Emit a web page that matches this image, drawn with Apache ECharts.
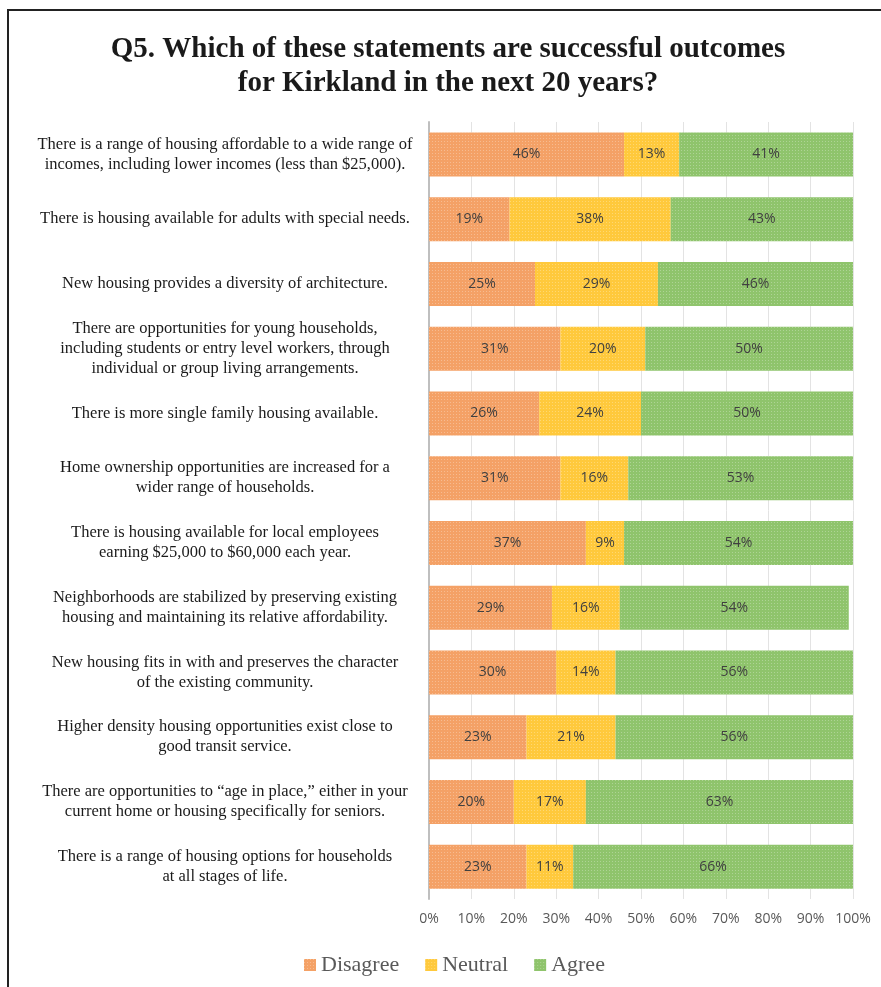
<!DOCTYPE html>
<html>
<head>
<meta charset="utf-8">
<style>
  html, body { margin: 0; padding: 0; background: #fff; }
  #chart { width: 881px; height: 987px; }
</style>
<script src="https://cdn.jsdelivr.net/npm/echarts@6/dist/echarts.min.js"></script>
</head>
<body>
<div id="chart"></div>
<script>
// Statements, top to bottom
const statements = [
  'There is a range of housing affordable to a wide range of\nincomes, including lower incomes (less than $25,000).',
  'There is housing available for adults with special needs.',
  'New housing provides a diversity of architecture.',
  'There are opportunities for young households,\nincluding students or entry level workers, through\nindividual or group living arrangements.',
  'There is more single family housing available.',
  'Home ownership opportunities are increased for a\nwider range of households.',
  'There is housing available for local employees\nearning $25,000 to $60,000 each year.',
  'Neighborhoods are stabilized by preserving existing\nhousing and maintaining its relative affordability.',
  'New housing fits in with and preserves the character\nof the existing community.',
  'Higher density housing opportunities exist close to\ngood transit service.',
  'There are opportunities to \u201cage in place,\u201d either in your\ncurrent home or housing specifically for seniors.',
  'There is a range of housing options for households\nat all stages of life.'
];

// Share of responses (%)
const disagree = [46, 19, 25, 31, 26, 31, 37, 29, 30, 23, 20, 23];
const neutral  = [13, 38, 29, 20, 24, 16,  9, 16, 14, 21, 17, 11];
const agree    = [41, 43, 46, 50, 50, 53, 54, 54, 56, 56, 63, 66];

const seriesNames = ['Disagree', 'Neutral', 'Agree'];
const seriesColors = ['#F4A166', '#FFC93C', '#8FC46C'];

const serifFont = '"Liberation Serif", "DejaVu Serif", serif';
const sansFont = '"Open Sans", "Liberation Sans", sans-serif';

// fine light dot texture on the bars
const texture = {
  symbol: 'rect',
  symbolSize: 1,
  dashArrayX: [1, 2],
  dashArrayY: [1, 2],
  color: 'rgba(255,255,255,0.28)'
};

function makeSeries(name, data, color) {
  return {
    name: name,
    type: 'bar',
    stack: 'total',
    data: data,
    barWidth: 44,
    itemStyle: { color: color, decal: texture },
    label: {
      show: true,
      position: 'inside',
      formatter: '{c}%',
      color: '#404040',
      fontFamily: sansFont,
      fontSize: 14
    },
    emphasis: { disabled: true }
  };
}

const chart = echarts.init(document.getElementById('chart'));
chart.setOption({
  animation: false,
  backgroundColor: '#ffffff',
  title: {
    text: 'Q5. Which of these statements are successful outcomes\nfor Kirkland in the next 20 years?',
    left: 443,
    top: 28,
    textAlign: 'center',
    textStyle: {
      fontFamily: serifFont,
      fontWeight: 'bold',
      fontSize: 29,
      lineHeight: 34,
      color: '#1a1a1a'
    }
  },
  legend: {
    data: seriesNames,
    left: 299,
    top: 949,
    icon: 'rect',
    itemWidth: 12,
    itemHeight: 12,
    itemGap: 26,
    textStyle: {
      fontFamily: serifFont,
      fontSize: 22,
      color: '#595959'
    }
  },
  grid: {
    left: 429,
    right: 28,
    top: 122,
    bottom: 88,
    containLabel: false
  },
  xAxis: {
    type: 'value',
    min: 0,
    max: 100,
    interval: 10,
    axisLine: { show: false },
    axisTick: { show: false },
    axisLabel: {
      formatter: '{value}%',
      color: '#595959',
      fontFamily: sansFont,
      fontSize: 14,
      margin: 13
    },
    splitLine: { show: true, lineStyle: { color: '#E3E3E3', width: 1 } }
  },
  yAxis: {
    type: 'category',
    inverse: true,
    data: statements,
    axisLine: { show: true, lineStyle: { color: '#BFBFBF', width: 2 } },
    axisTick: { show: false },
    axisLabel: {
      align: 'center',
      margin: 204,
      color: '#1a1a1a',
      fontFamily: serifFont,
      fontSize: 16.5,
      lineHeight: 20
    }
  },
  series: [
    makeSeries(seriesNames[0], disagree, seriesColors[0]),
    makeSeries(seriesNames[1], neutral, seriesColors[1]),
    makeSeries(seriesNames[2], agree, seriesColors[2])
  ],
  graphic: [
    {
      type: 'polyline',
      shape: { points: [[881, 10], [8, 10], [8, 987]] },
      style: { stroke: '#222', lineWidth: 2, fill: null },
      silent: true
    }
  ]
});
</script>
</body>
</html>
